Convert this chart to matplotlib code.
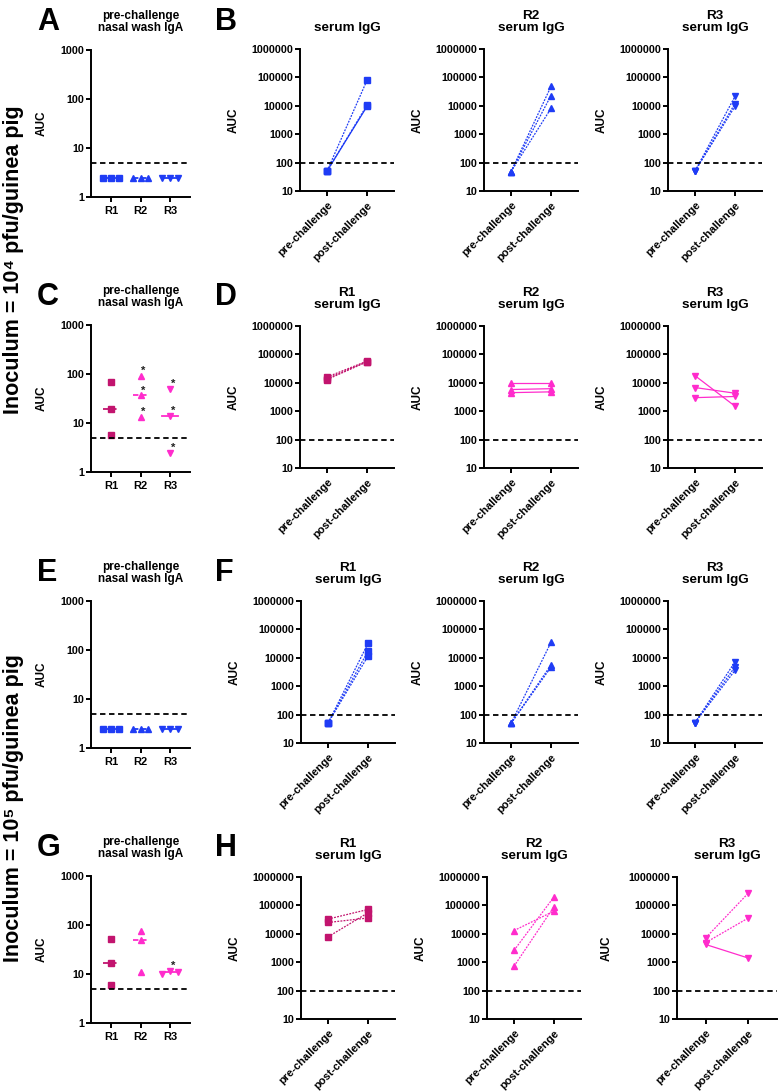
import numpy as np
import matplotlib.pyplot as plt

plt.rcParams['font.family'] = ['Liberation Sans', 'DejaVu Sans']
plt.rcParams['font.weight'] = 'bold'

BLUE = '#1f3cf5'
DARK = '#c2146e'
PINK = '#ff2ccc'

groups = ['R1', 'R2', 'R3']
timepoints = ['pre-challenge', 'post-challenge']
markers = ['s', '^', 'v']

# pre-challenge nasal wash IgA (AUC), one list per group R1..R3
A_iga = [[2.5, 2.5, 2.5], [2.5, 2.5, 2.5], [2.5, 2.5, 2.5]]
C_iga = [[68, 19, 5.8], [91, 37, 13.5], [50, 14, 2.5]]
E_iga = [[2.5, 2.5, 2.5], [2.5, 2.5, 2.5], [2.5, 2.5, 2.5]]
G_iga = [[53, 17, 6], [75, 49, 11], [9.8, 11.5, 10.8]]
C_star = [[0, 0, 0], [1, 1, 1], [1, 1, 1]]
G_star = [[0, 0, 0], [0, 0, 0], [0, 1, 0]]
iga_lod = 5

# serum IgG (AUC), pre and post challenge, per animal
B_pre = [[50, 50, 50], [48, 48, 48], [50, 50, 50]]
B_post = [[79000, 10500, 9500], [48000, 23000, 8100], [21500, 12000, 9600]]
D_pre = [[16000, 14000, 13000], [9500, 5800, 4500], [17800, 6800, 3000]]
D_post = [[58000, 56000, 55000], [9500, 6200, 4800], [1500, 4300, 3300]]
F_pre = [[50, 50, 50], [49, 49, 49], [52, 52, 52]]
F_post = [[32000, 17000, 11500], [35000, 5600, 4700], [7200, 4800, 3600]]
H_pre = [[33000, 25000, 7800], [13000, 2600, 720], [7200, 4900, 4200]]
H_post = [[72000, 36000, 55000], [63000, 200000, 90000], [270000, 36000, 1400]]
igg_lod = 100

# line style flags: 1 = dotted, 0 = solid
B_dot = [[1, 1, 0], [1, 1, 1], [1, 1, 1]]
D_dot = [[1, 1, 1], [0, 0, 0], [0, 0, 0]]
F_dot = [[1, 1, 1], [1, 1, 1], [1, 1, 1]]
H_dot = [[1, 1, 1], [1, 1, 1], [1, 1, 0]]

W, H = 779, 1092
fig = plt.figure(figsize=(W / 100, H / 100), dpi=100)


def px_axes(x, top, w, bottom):
    return fig.add_axes([x / W, 1 - bottom / H, w / W, (bottom - top) / H])


def style(ax):
    for s in ['top', 'right']:
        ax.spines[s].set_visible(False)
    for s in ['left', 'bottom']:
        ax.spines[s].set_linewidth(1.4)
    ax.tick_params(width=1.4, length=3.5, labelsize=7.7, pad=1.5)
    ax.yaxis.set_minor_locator(plt.NullLocator())


def title(ax, txt, size, off):
    ax.annotate(txt, xy=(0.5, 1), xycoords='axes fraction', xytext=(0, off),
                textcoords='offset pixels', ha='center', va='bottom',
                fontsize=size, fontweight='bold', linespacing=1.05)


def spread(v):
    lv = np.log10(v)
    if lv.max() - lv.min() < 0.1:
        return np.linspace(-0.26, 0.26, len(v))
    return np.zeros(len(v))


def draw_iga(ax, vals, colors, stars=None):
    med_ls = [(0, (3, 1.5)), (0, (3, 1.5)), '-']
    for i, v in enumerate(vals):
        v = np.array(v, float)
        dx = spread(v)
        med = np.median(v)
        ax.plot([i - 0.27, i + 0.27], [med, med], color=colors[i], lw=1.3, ls=med_ls[i])
        ax.plot(i + dx, v, ls='none', marker=markers[i], color=colors[i], ms=4.2)
        if stars is not None:
            for d, y, s in zip(dx, v, stars[i]):
                if s:
                    ax.text(i + d + 0.1, y * 1.25, '*', ha='center', va='center',
                            fontsize=8, color='#222222')
    ax.axhline(iga_lod, color='k', ls=(0, (3, 2)), lw=1.3)
    ax.set_yscale('log')
    ax.set_ylim(1, 1000)
    ax.set_xlim(-0.68, 2.68)
    ax.set_yticks([1, 10, 100, 1000])
    ax.set_yticklabels(['1', '10', '100', '1000'])
    ax.set_xticks([0, 1, 2])
    ax.set_xticklabels(groups)
    style(ax)
    ax.tick_params(axis='x', labelsize=8, pad=3)
    ax.set_ylabel('AUC', fontsize=8.5, fontweight='bold')
    ax.yaxis.set_label_coords(-0.44, 0.5)
    title(ax, 'pre-challenge\nnasal wash IgA', 8.5, 16)


def draw_igg(ax, pre, post, dot, color, mk, ttl):
    for a, b, d in zip(pre, post, dot):
        ls = (0, (1.5, 1)) if d else '-'
        ax.plot([0, 1], [a, b], color=color, lw=0.9, ls=ls, marker=mk, ms=4)
    ax.axhline(igg_lod, color='k', ls=(0, (3, 2)), lw=1.3)
    ax.set_yscale('log')
    ax.set_ylim(10, 1e6)
    ax.set_xlim(-0.675, 1.675)
    ticks = [10, 100, 1000, 10000, 100000, 1000000]
    ax.set_yticks(ticks)
    ax.set_yticklabels([str(t) for t in ticks])
    ax.set_xticks([0, 1])
    style(ax)
    ax.set_xticklabels(timepoints, rotation=45, ha='right', va='top',
                       rotation_mode='anchor', fontsize=8)
    ax.tick_params(axis='x', pad=3)
    ax.set_ylabel('AUC', fontsize=8.5, fontweight='bold')
    ax.yaxis.set_label_coords(-0.64, 0.5)
    title(ax, ttl, 9.7, 15)


iga_rows = [(50, 197), (325, 472), (601, 748), (876, 1023)]
igg_rows = [(49, 191), (326, 468), (601, 743), (877, 1019)]
igg_lefts = [[300, 484, 668], [300, 484, 668], [301, 484, 668], [301, 487, 677]]

iga_data = [A_iga, C_iga, E_iga, G_iga]
iga_stars = [None, C_star, None, G_star]
igg_pre = [B_pre, D_pre, F_pre, H_pre]
igg_post = [B_post, D_post, F_post, H_post]
igg_dot = [B_dot, D_dot, F_dot, H_dot]
row_colors = [[BLUE] * 3, [DARK, PINK, PINK], [BLUE] * 3, [DARK, PINK, PINK]]
letters = [('A', 'B'), ('C', 'D'), ('E', 'F'), ('G', 'H')]

for r in range(4):
    top, bot = iga_rows[r]
    ax = px_axes(91, top, 99, bot)
    draw_iga(ax, iga_data[r], row_colors[r], iga_stars[r])
    ttop, tbot = igg_rows[r]
    for k in range(3):
        w = 100 if (r == 3 and k == 2) else 94
        ax2 = px_axes(igg_lefts[r][k], ttop, w, tbot)
        ttl = groups[k] + '\nserum IgG'
        if r == 0 and k == 0:
            ttl = 'serum IgG'
        draw_igg(ax2, igg_pre[r][k], igg_post[r][k], igg_dot[r][k],
                 row_colors[r][k], markers[k], ttl)
    fig.text(37 / W, 1 - (top - 20) / H, letters[r][0], fontsize=22,
             fontweight='bold', ha='left', va='baseline')
    fig.text(215 / W, 1 - (top - 20) / H, letters[r][1], fontsize=22,
             fontweight='bold', ha='left', va='baseline')

fig.text(14 / W, 1 - 260 / H, 'Inoculum = 10\u2074 pfu/guinea pig',
         rotation=90, ha='center', va='center', fontsize=15.5, fontweight='bold')
fig.text(14 / W, 1 - 808 / H, 'Inoculum = 10\u2075 pfu/guinea pig',
         rotation=90, ha='center', va='center', fontsize=15.5, fontweight='bold')

fig.savefig('out.png', dpi=100)
